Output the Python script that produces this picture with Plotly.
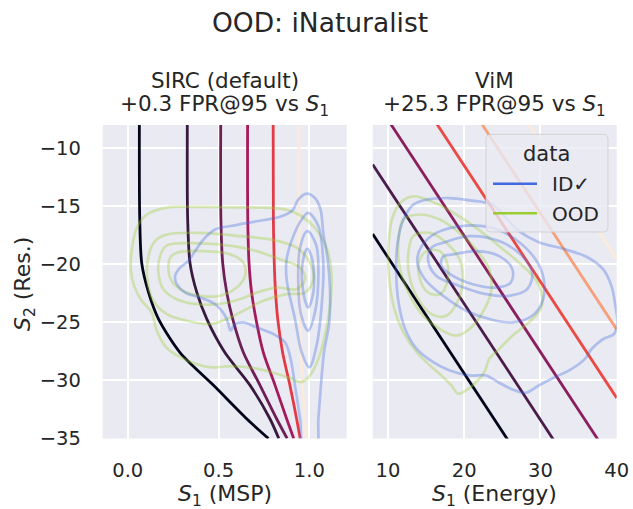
import plotly.graph_objects as go

# ---------------- data ----------------
# SIRC iso-score curves (left panel): S1 (MSP) value at each S2 level
SIRC_S2 = [-8.0, -16.1, -19.9, -22.4, -24.7, -27.6, -30.4, -33.3, -35.0]
SIRC_S1 = [
    [0.064, 0.066, 0.077, 0.114, 0.169, 0.288, 0.471, 0.655, 0.775],
    [0.328, 0.330, 0.343, 0.380, 0.435, 0.535, 0.673, 0.783, 0.832],
    [0.512, 0.513, 0.523, 0.545, 0.578, 0.637, 0.728, 0.820, 0.878],
    [0.660, 0.661, 0.668, 0.682, 0.706, 0.747, 0.811, 0.875, 0.914],
    [0.801, 0.802, 0.807, 0.814, 0.826, 0.853, 0.893, 0.930, 0.950],
    [0.943, 0.943, 0.945, 0.947, 0.950, 0.954, 0.963, 0.975, 0.982],
]
SIRC_COLORS = ["#03051a", "#381a40", "#6d1f56", "#a51a5b", "#e33a46", "#faebdd"]

# ViM iso-score lines (right panel): S1 + S2 = offset
VIM_OFFSETS = [-9.4, -3.4, 2.45, 8.5, 14.4, 20.45]
VIM_SLOPE = -1.0
VIM_COLORS = ["#03051a", "#4a1c4a", "#8b1f5e", "#ea4a44", "#f6a07a", "#faebdd"]

# KDE contour paths, (S1, S2) points
LEFT_OOD = [
    [(0.215, -15.11), (0.398, -15.06), (0.582, -15.09), (0.802, -15.14), (0.884, -15.34),
     (0.958, -15.86), (1.031, -16.86), (1.095, -18.57), (1.123, -21.0), (1.114, -23.57),
     (1.086, -26.14), (1.05, -28.14), (1.004, -29.57), (0.958, -30.14), (0.894, -29.8),
     (0.802, -29.34), (0.692, -28.94), (0.582, -28.77), (0.453, -28.86), (0.361, -28.49),
     (0.279, -27.91), (0.211, -27.14), (0.156, -25.57), (0.132, -24.14), (0.077, -23.14),
     (0.035, -21.86), (0.017, -20.43), (0.024, -18.57), (0.05, -16.86), (0.105, -15.71),
     (0.215, -15.11)],
    [(0.215, -17.43), (0.398, -17.29), (0.618, -17.57), (0.802, -17.91), (0.93, -18.57),
     (1.004, -19.86), (1.022, -21.29), (0.976, -22.43), (0.875, -22.57), (0.747, -23.14),
     (0.637, -24.0), (0.545, -24.71), (0.453, -25.14), (0.325, -24.86), (0.215, -24.29),
     (0.141, -23.14), (0.108, -21.29), (0.114, -19.29), (0.15, -18.0), (0.215, -17.43)],
    [(0.215, -18.37), (0.398, -18.2), (0.582, -18.43), (0.71, -18.86), (0.839, -19.57),
     (0.949, -20.29), (0.976, -21.29), (0.93, -22.14), (0.82, -22.0), (0.71, -22.43),
     (0.618, -23.0), (0.49, -23.43), (0.38, -23.43), (0.27, -23.0), (0.196, -22.14),
     (0.169, -20.71), (0.178, -19.29), (0.215, -18.37)],
    [(0.27, -19.0), (0.417, -18.86), (0.563, -19.14), (0.637, -19.86), (0.646, -21.0),
     (0.6, -22.0), (0.508, -22.71), (0.398, -22.71), (0.306, -22.29), (0.242, -21.43),
     (0.224, -20.29), (0.237, -19.34), (0.27, -19.0)],
]
LEFT_ID = [
    [(0.985, -13.91), (1.031, -14.29), (1.062, -15.29), (1.077, -17.29), (1.101, -19.57),
     (1.114, -22.14), (1.11, -25.0), (1.081, -27.57), (1.064, -30.43), (1.05, -33.29),
     (1.037, -35.86), (0.971, -35.86), (0.949, -33.29), (0.921, -30.43), (0.897, -28.14),
     (0.866, -26.71), (0.802, -26.0), (0.71, -25.43), (0.637, -25.0), (0.591, -25.14),
     (0.567, -25.71), (0.554, -25.14), (0.536, -24.43), (0.481, -23.43), (0.398, -22.86),
     (0.316, -22.43), (0.27, -21.71), (0.261, -21.0), (0.288, -20.29), (0.334, -19.71),
     (0.371, -18.86), (0.417, -17.86), (0.481, -17.0), (0.582, -16.66), (0.71, -16.29),
     (0.839, -15.91), (0.908, -15.34), (0.939, -14.43), (0.985, -13.91)],
    [(0.994, -15.57), (1.05, -16.71), (1.077, -19.86), (1.068, -23.57), (1.04, -27.0),
     (1.0, -28.86), (0.958, -27.57), (0.921, -24.71), (0.875, -21.29), (0.875, -19.57),
     (0.912, -17.57), (0.958, -16.14), (0.994, -15.57)],
    [(0.989, -17.14), (1.037, -18.29), (1.05, -21.0), (1.031, -24.14), (0.994, -25.71),
     (0.954, -24.29), (0.939, -21.0), (0.949, -18.57), (0.989, -17.14)],
    [(0.989, -18.66), (1.018, -19.71), (1.022, -22.43), (0.994, -23.71), (0.967, -22.43),
     (0.963, -19.86), (0.989, -18.66)],
]
RIGHT_OOD = [
    [(13.33, -14.14), (16.36, -14.77), (18.96, -15.71), (21.56, -16.86), (24.59, -18.43),
     (27.19, -19.86), (29.35, -21.29), (30.22, -22.71), (30.0, -23.86), (28.48, -25.0),
     (26.32, -26.14), (24.59, -27.29), (23.29, -28.14), (22.64, -29.29), (21.56, -30.14),
     (20.26, -30.86), (19.18, -31.14), (18.31, -30.43), (17.01, -29.57), (15.5, -28.71),
     (13.77, -27.57), (12.03, -25.86), (10.74, -23.57), (10.09, -20.71), (10.09, -18.14),
     (10.52, -16.14), (11.6, -14.71), (13.33, -14.14)],
    [(12.03, -16.14), (14.2, -15.71), (16.8, -16.14), (19.39, -17.29), (21.56, -18.71),
     (23.29, -20.43), (23.5, -22.43), (22.42, -24.14), (20.69, -25.57), (18.96, -26.14),
     (16.8, -25.57), (14.63, -24.43), (12.9, -22.71), (11.6, -20.43), (11.39, -17.86),
     (12.03, -16.14)],
    [(13.33, -17.57), (15.5, -17.29), (17.66, -18.14), (19.39, -19.57), (19.83, -21.29),
     (19.18, -23.14), (17.66, -24.43), (15.71, -24.29), (13.98, -23.0), (12.81, -21.0),
     (12.68, -19.0), (13.33, -17.57)],
    [(15.06, -18.86), (16.8, -18.86), (17.75, -19.86), (17.75, -21.57), (16.8, -22.57),
     (15.28, -22.43), (14.2, -21.29), (14.11, -19.71), (15.06, -18.86)],
]
RIGHT_ID = [
    [(15.06, -14.43), (18.1, -14.29), (20.69, -14.49), (23.72, -14.86), (25.67, -16.14),
     (27.19, -17.14), (29.78, -18.09), (33.25, -18.71), (36.28, -19.43), (38.23, -20.43),
     (39.31, -21.86), (39.83, -23.57), (40.09, -25.0), (39.65, -26.0), (38.23, -26.43),
     (36.71, -27.29), (35.84, -28.14), (34.11, -29.0), (31.95, -29.71), (29.78, -30.43),
     (28.05, -31.06), (26.32, -30.77), (24.59, -30.2), (22.86, -29.57), (20.69, -29.57),
     (18.1, -29.14), (15.93, -28.43), (13.77, -27.29), (12.25, -25.57), (11.39, -23.29),
     (11.08, -20.71), (11.26, -18.14), (12.03, -16.14), (13.33, -14.86), (15.06, -14.43)],
    [(16.36, -17.29), (20.26, -16.66), (23.72, -16.86), (26.75, -17.86), (29.35, -19.57),
     (30.43, -21.29), (30.3, -23.14), (28.92, -24.43), (26.32, -25.0), (23.29, -24.71),
     (20.26, -24.0), (17.23, -22.71), (14.85, -21.29), (13.85, -19.86), (14.42, -18.43),
     (16.36, -17.29)],
    [(17.23, -18.14), (20.69, -17.57), (24.59, -18.0), (27.62, -19.29), (28.92, -20.71),
     (28.27, -22.14), (25.89, -22.71), (22.86, -22.57), (19.39, -21.86), (16.36, -21.0),
     (15.28, -19.71), (15.71, -18.57), (17.23, -18.14)],
    [(18.53, -19.14), (21.56, -18.86), (24.59, -19.29), (26.32, -20.43), (26.1, -21.57),
     (24.16, -22.0), (21.13, -21.71), (18.53, -21.0), (17.01, -20.14), (17.23, -19.34),
     (18.53, -19.14)],
]

ID_COLOR = "#4169e1"
OOD_COLOR = "#9acd32"
ID_CONTOUR = "rgba(65,105,225,0.34)"
OOD_CONTOUR = "rgba(154,205,50,0.34)"

Y_TICKS = [-35, -30, -25, -20, -15, -10]
LEFT_X_TICKS = [0.0, 0.5, 1.0]
RIGHT_X_TICKS = [10, 20, 30, 40]

# ---------------- layout helpers (pixel -> paper) ----------------
W, H = 633, 509
FONT = "DejaVu Sans"
TXT = "#262626"


def px(v):
    return v / W


def py(v):
    return 1 - v / H


AX_L = (102.7, 346.7)
AX_R = (372.7, 616.7)
AX_T, AX_B = 125.0, 438.5

fig = go.Figure()

# decision-boundary curves
for xs, col in zip(SIRC_S1, SIRC_COLORS):
    fig.add_trace(go.Scatter(x=xs, y=SIRC_S2, mode="lines", xaxis="x", yaxis="y",
                             line=dict(color=col, width=2.8, shape="spline", smoothing=0.8),
                             showlegend=False, hoverinfo="skip"))
X_SPAN = [8, 40]
for c, col in zip(VIM_OFFSETS, VIM_COLORS):
    fig.add_trace(go.Scatter(x=X_SPAN, y=[c + VIM_SLOPE * x for x in X_SPAN], mode="lines",
                             xaxis="x2", yaxis="y2", line=dict(color=col, width=2.8),
                             showlegend=False, hoverinfo="skip"))


def add_contours(paths, color, xa, ya):
    for p in paths:
        fig.add_trace(go.Scatter(x=[a for a, b in p], y=[b for a, b in p], mode="lines",
                                 xaxis=xa, yaxis=ya,
                                 line=dict(color=color, width=2.7, shape="spline", smoothing=1.0),
                                 showlegend=False, hoverinfo="skip"))


add_contours(LEFT_OOD, OOD_CONTOUR, "x", "y")
add_contours(LEFT_ID, ID_CONTOUR, "x", "y")
add_contours(RIGHT_OOD, OOD_CONTOUR, "x2", "y2")
add_contours(RIGHT_ID, ID_CONTOUR, "x2", "y2")

axis_common = dict(showgrid=True, gridcolor="white", gridwidth=1.8, zeroline=False,
                   showline=False, tickcolor="rgba(0,0,0,0)",
                   tickfont=dict(family=FONT, size=19.5, color=TXT))

fig.update_layout(
    width=W, height=H, autosize=False, margin=dict(l=0, r=0, t=0, b=0, autoexpand=False),
    paper_bgcolor="white", plot_bgcolor="#eaeaf2", showlegend=False,
    xaxis=dict(domain=[px(AX_L[0]), px(AX_L[1])], range=[-0.138, 1.206],
               tickvals=LEFT_X_TICKS, ticktext=["%.1f" % v for v in LEFT_X_TICKS],
               ticks="outside", ticklen=14, anchor="y", **axis_common),
    xaxis2=dict(domain=[px(AX_R[0]), px(AX_R[1])], range=[8, 40],
                tickvals=RIGHT_X_TICKS, ticktext=[str(v) for v in RIGHT_X_TICKS],
                ticks="outside", ticklen=14, anchor="y2", **axis_common),
    yaxis=dict(domain=[py(AX_B), py(AX_T)], range=[-35, -8], anchor="x",
               tickvals=Y_TICKS, ticktext=["\u2212%d" % abs(v) for v in Y_TICKS],
               ticks="outside", ticklen=17, **axis_common),
    yaxis2=dict(domain=[py(AX_B), py(AX_T)], range=[-35, -8], anchor="x2", matches="y",
                tickvals=Y_TICKS, showticklabels=False, ticks="", **axis_common),
)

ann = []


def text(x, y, s, size, angle=0, xanchor="center"):
    ann.append(dict(x=px(x), y=py(y), xref="paper", yref="paper", text=s, showarrow=False,
                    xanchor=xanchor, yanchor="middle", textangle=angle, borderpad=0,
                    font=dict(family=FONT, size=size, color=TXT)))


cl = (AX_L[0] + AX_L[1]) / 2
cr = (AX_R[0] + AX_R[1]) / 2
text(320, 22, "OOD: iNaturalist", 26.5)
text(cl, 80.5, "SIRC (default)", 21.5)
text(cr, 80.5, "ViM", 21.5)
text(cl, 105, "+0.3 FPR@95 vs <i>S</i><sub>1</sub>", 21.5)
text(cr, 105, "+25.3 FPR@95 vs <i>S</i><sub>1</sub>", 21.5)
text(cl, 495, "<i>S</i><sub>1</sub> (MSP)", 22)
text(cr, 495, "<i>S</i><sub>1</sub> (Energy)", 22)
text(24, 284, "<i>S</i><sub>2</sub> (Res.)", 22, angle=-90)

# legend (drawn to match the matplotlib legend box)
LX0, LX1, LY0, LY1, R = 486, 608, 134.3, 232, 5
path = ("M {a},{b} L {c},{b} Q {d},{b} {d},{e} L {d},{f} Q {d},{g} {c},{g} "
        "L {a},{g} Q {h},{g} {h},{f} L {h},{e} Q {h},{b} {a},{b} Z").format(
    a=px(LX0 + R), b=py(LY0), c=px(LX1 - R), d=px(LX1), e=py(LY0 + R),
    f=py(LY1 - R), g=py(LY1), h=px(LX0))
shapes = [dict(type="path", path=path, xref="paper", yref="paper",
               fillcolor="rgba(234,234,242,0.8)", line=dict(color="rgba(204,204,204,0.8)", width=1),
               layer="above")]
for yy, col in [(183.7, ID_COLOR), (213.3, OOD_COLOR)]:
    shapes.append(dict(type="line", xref="paper", yref="paper", x0=px(493), x1=px(537),
                       y0=py(yy), y1=py(yy), line=dict(color=col, width=2.6), layer="above"))
text(546.7, 154, "data", 21)
text(551, 184, "ID\u2713", 20, xanchor="left")
text(551, 213.5, "OOD", 20, xanchor="left")

fig.update_layout(annotations=ann, shapes=shapes)
fig.write_html("out.html", config={"responsive": False, "displayModeBar": False})
